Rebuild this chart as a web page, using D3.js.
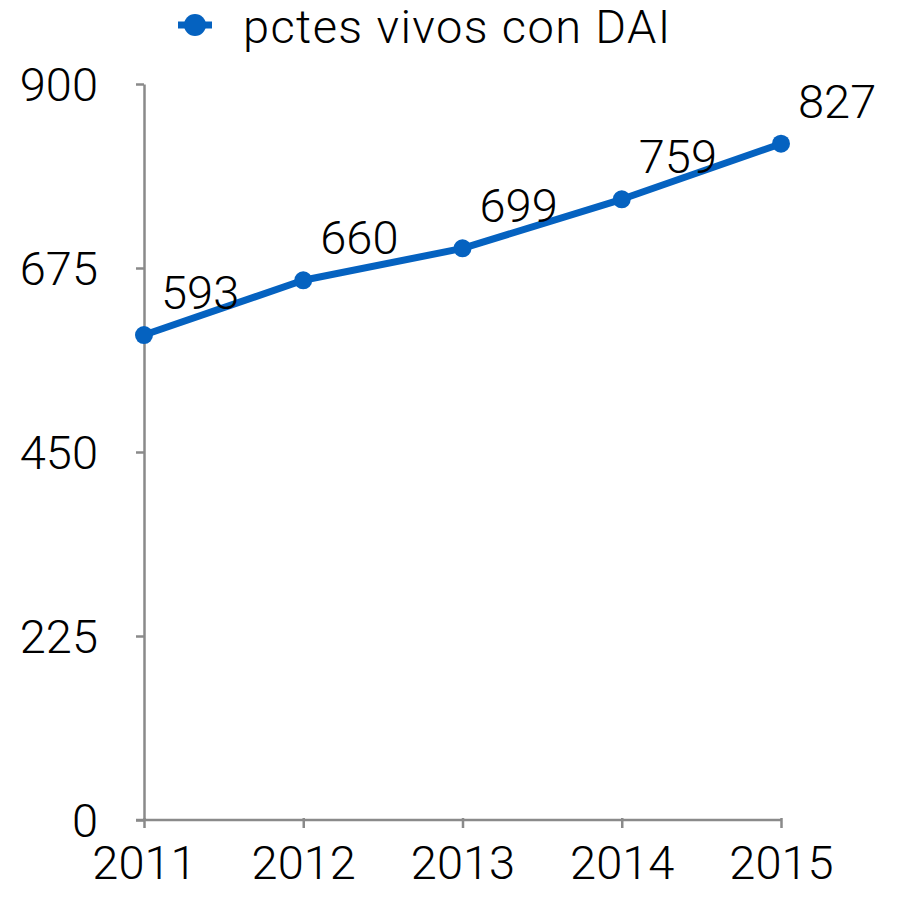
<!DOCTYPE html>
<html>
<head>
<meta charset="utf-8">
<script src="https://cdn.jsdelivr.net/npm/d3@7"></script>
<style>
  body { margin: 0; background: #fff; }
  text { font-family: Roboto, "Liberation Sans", sans-serif; font-weight: 300; fill: #000; }
</style>
</head>
<body>
<div id="viz"></div>
<script>
var svg_width = 897;
var svg_height = 898;

var years = ["2011", "2012", "2013", "2014", "2015"];
var pacientes = [593, 660, 699, 759, 827];
var y_ticks = [0, 225, 450, 675, 900];
var serie_name = "pctes vivos con DAI";

var blue = "#0562c0";
var axis_grey = "#8a8a8a";

var svg = d3.select('#viz')
.append('svg')
.attr('width', svg_width)
.attr('height', svg_height);

var x = d3.scalePoint()
.domain(years)
.range([144, 781]);

var y = d3.scaleLinear()
.domain([0, 900])
.range([820, 84]);

// y axis
var yAxis = svg.append('g')
.attr('transform', 'translate(144,0)')
.call(d3.axisLeft(y).tickValues(y_ticks).tickSize(8).tickPadding(38).tickSizeOuter(0));

// x axis
var xAxis = svg.append('g')
.attr('transform', 'translate(0,820)')
.call(d3.axisBottom(x).tickSize(8).tickPadding(18).tickSizeOuter(0));

// the x axis line also runs under the y ticks
xAxis.select('.domain').attr('d', 'M136,0H781');

[yAxis, xAxis].forEach(function(g){
  g.selectAll('.domain, line')
  .attr('stroke', axis_grey)
  .attr('stroke-width', 2.5);
  g.selectAll('text')
  .attr('font-size', '47px')
  .attr('font-family', 'Roboto, "Liberation Sans", sans-serif')
  .attr('fill', '#000');
});
yAxis.selectAll('text').attr('dy', '0.36em');
xAxis.selectAll('text').attr('dy', '0.71em');
xAxis.selectAll('.tick line').attr('y1', -2);

// line
var line = d3.line()
.x(function(d, i){ return x(years[i]); })
.y(function(d){ return y(d); });

svg.append('path')
.datum(pacientes)
.attr('d', line)
.attr('fill', 'none')
.attr('stroke', blue)
.attr('stroke-width', 7)
.attr('stroke-linejoin', 'round');

svg.selectAll('circle.pt')
.data(pacientes)
.enter()
.append('circle')
.attr('class', 'pt')
.attr('cx', function(d, i){ return x(years[i]); })
.attr('cy', function(d){ return y(d); })
.attr('r', 9)
.attr('fill', blue);

// value labels
svg.selectAll('text.lbl')
.data(pacientes)
.enter()
.append('text')
.attr('class', 'lbl')
.text(function(d){ return d; })
.attr('x', function(d, i){ return x(years[i]) + 17; })
.attr('y', function(d){ return y(d) - 26; })
.attr('font-size', '47px');

// legend
var legend = svg.append('g');
legend.append('line')
.attr('x1', 178).attr('x2', 212)
.attr('y1', 25).attr('y2', 25)
.attr('stroke', blue)
.attr('stroke-width', 7);
legend.append('circle')
.attr('cx', 195).attr('cy', 25)
.attr('r', 11)
.attr('fill', blue);
legend.append('text')
.attr('x', 243)
.attr('y', 43)
.attr('font-size', '47px')
.attr('letter-spacing', '1.4px')
.text(serie_name);
</script>
</body>
</html>
